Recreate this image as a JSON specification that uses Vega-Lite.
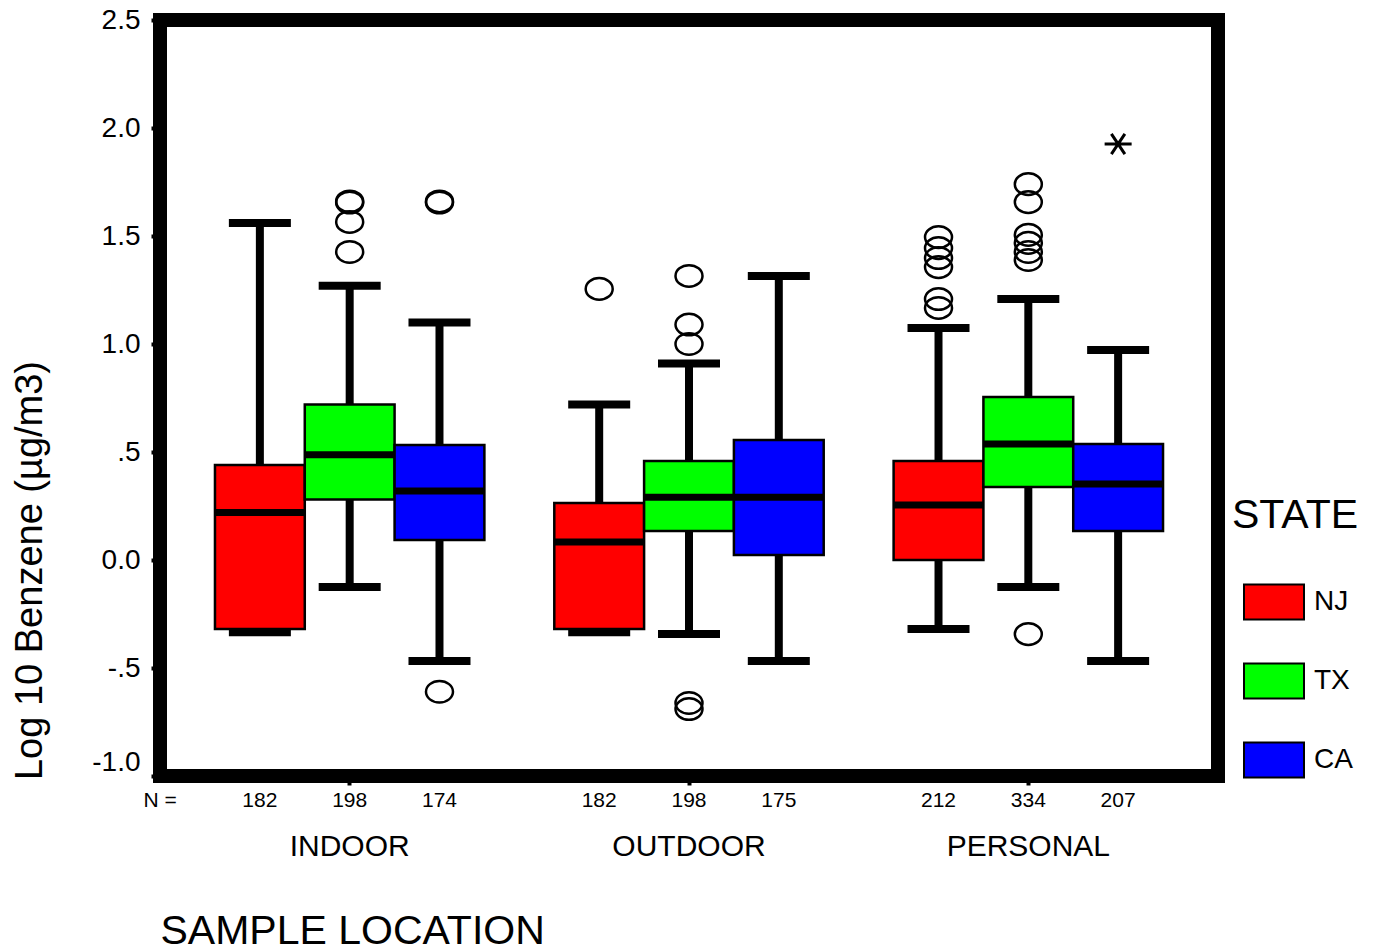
{
  "$schema": "https://vega.github.io/schema/vega-lite/v6.json",
  "width": 1058,
  "height": 756,
  "autosize": {"type": "none"},
  "padding": {"left": 160, "top": 20, "right": 155, "bottom": 175},
  "background": "white",
  "config": {
    "view": {"stroke": "black", "strokeWidth": 14},
    "font": "Liberation Sans",
    "axis": {"grid": false, "domain": false, "labelColor": "black", "titleColor": "black", "tickColor": "black", "titleFontWeight": "normal", "labelFont": "Liberation Sans", "titleFont": "Liberation Sans"}
  },
  "datasets": {
    "boxes": [
      {"location": "INDOOR", "state": "NJ", "n": 182, "lower": -0.335, "q1": -0.32, "median": 0.22, "q3": 0.44, "upper": 1.56},
      {"location": "INDOOR", "state": "TX", "n": 198, "lower": -0.125, "q1": 0.28, "median": 0.487, "q3": 0.72, "upper": 1.27},
      {"location": "INDOOR", "state": "CA", "n": 174, "lower": -0.468, "q1": 0.093, "median": 0.32, "q3": 0.532, "upper": 1.10},
      {"location": "OUTDOOR", "state": "NJ", "n": 182, "lower": -0.335, "q1": -0.32, "median": 0.083, "q3": 0.264, "upper": 0.72},
      {"location": "OUTDOOR", "state": "TX", "n": 198, "lower": -0.343, "q1": 0.134, "median": 0.29, "q3": 0.458, "upper": 0.91},
      {"location": "OUTDOOR", "state": "CA", "n": 175, "lower": -0.468, "q1": 0.023, "median": 0.29, "q3": 0.555, "upper": 1.315},
      {"location": "PERSONAL", "state": "NJ", "n": 212, "lower": -0.32, "q1": 0.0, "median": 0.255, "q3": 0.458, "upper": 1.074},
      {"location": "PERSONAL", "state": "TX", "n": 334, "lower": -0.125, "q1": 0.338, "median": 0.537, "q3": 0.755, "upper": 1.208},
      {"location": "PERSONAL", "state": "CA", "n": 207, "lower": -0.468, "q1": 0.134, "median": 0.352, "q3": 0.537, "upper": 0.972}
    ],
    "outliers": [
      {"location": "INDOOR", "state": "TX", "value": 1.66, "kind": "outlier"},
      {"location": "INDOOR", "state": "TX", "value": 1.655, "kind": "outlier"},
      {"location": "INDOOR", "state": "TX", "value": 1.565, "kind": "outlier"},
      {"location": "INDOOR", "state": "TX", "value": 1.426, "kind": "outlier"},
      {"location": "INDOOR", "state": "CA", "value": 1.66, "kind": "outlier"},
      {"location": "INDOOR", "state": "CA", "value": 1.655, "kind": "outlier"},
      {"location": "INDOOR", "state": "CA", "value": -0.61, "kind": "outlier"},
      {"location": "OUTDOOR", "state": "NJ", "value": 1.255, "kind": "outlier"},
      {"location": "OUTDOOR", "state": "TX", "value": 1.315, "kind": "outlier"},
      {"location": "OUTDOOR", "state": "TX", "value": 1.09, "kind": "outlier"},
      {"location": "OUTDOOR", "state": "TX", "value": 1.0, "kind": "outlier"},
      {"location": "OUTDOOR", "state": "TX", "value": -0.662, "kind": "outlier"},
      {"location": "OUTDOOR", "state": "TX", "value": -0.69, "kind": "outlier"},
      {"location": "PERSONAL", "state": "NJ", "value": 1.495, "kind": "outlier"},
      {"location": "PERSONAL", "state": "NJ", "value": 1.444, "kind": "outlier"},
      {"location": "PERSONAL", "state": "NJ", "value": 1.398, "kind": "outlier"},
      {"location": "PERSONAL", "state": "NJ", "value": 1.356, "kind": "outlier"},
      {"location": "PERSONAL", "state": "NJ", "value": 1.208, "kind": "outlier"},
      {"location": "PERSONAL", "state": "NJ", "value": 1.167, "kind": "outlier"},
      {"location": "PERSONAL", "state": "TX", "value": 1.74, "kind": "outlier"},
      {"location": "PERSONAL", "state": "TX", "value": 1.657, "kind": "outlier"},
      {"location": "PERSONAL", "state": "TX", "value": 1.505, "kind": "outlier"},
      {"location": "PERSONAL", "state": "TX", "value": 1.468, "kind": "outlier"},
      {"location": "PERSONAL", "state": "TX", "value": 1.426, "kind": "outlier"},
      {"location": "PERSONAL", "state": "TX", "value": 1.389, "kind": "outlier"},
      {"location": "PERSONAL", "state": "TX", "value": -0.343, "kind": "outlier"},
      {"location": "PERSONAL", "state": "CA", "value": 1.926, "kind": "extreme"}
    ]
  },
  "encoding": {
    "x": {
      "field": "location", "type": "nominal",
      "scale": {"domain": ["INDOOR", "OUTDOOR", "PERSONAL"], "paddingInner": 0.206, "paddingOuter": 0.162},
      "axis": {
        "title": "SAMPLE LOCATION", "labelAngle": 0, "labelFontSize": 30, "labelPadding": 46,
        "tickSize": 9, "tickWidth": 4,
        "titleFontSize": 41, "titleAnchor": "start", "titleAlign": "left", "titleX": 0, "titleY": 167, "titleBaseline": "alphabetic"
      }
    },
    "xOffset": {"field": "state", "type": "nominal", "scale": {"domain": ["NJ", "TX", "CA"], "paddingInner": 0, "paddingOuter": 0}}
  },
  "layer": [
    {
      "data": {"name": "boxes"},
      "mark": {"type": "rule", "color": "black", "strokeWidth": 8},
      "encoding": {
        "y": {
          "field": "lower", "type": "quantitative",
          "scale": {"domain": [-1, 2.5], "nice": false, "zero": false},
          "axis": {
            "title": "Log 10 Benzene (µg/m3)", "values": [-1, -0.5, 0, 0.5, 1, 1.5, 2, 2.5],
            "labelExpr": "datum.value == 0.5 ? '.5' : datum.value == -0.5 ? '-.5' : datum.value == -1 ? '-1.0' : format(datum.value, '.1f')",
            "labelFontSize": 28, "labelPadding": 11, "tickSize": 9, "tickWidth": 4,
            "labelBaseline": {"condition": {"test": "datum.value == -1", "value": "bottom"}, "value": "middle"},
            "titleFontSize": 38, "titleAngle": 270, "titleX": -130, "titleY": 550, "titleAlign": "center", "titleBaseline": "middle"
          }
        },
        "y2": {"field": "upper"}
      }
    },
    {
      "data": {"name": "boxes"},
      "mark": {"type": "tick", "color": "black", "size": 62, "thickness": 8, "opacity": 1},
      "encoding": {"y": {"field": "lower", "type": "quantitative"}}
    },
    {
      "data": {"name": "boxes"},
      "mark": {"type": "tick", "color": "black", "size": 62, "thickness": 8, "opacity": 1},
      "encoding": {"y": {"field": "upper", "type": "quantitative"}}
    },
    {
      "data": {"name": "boxes"},
      "mark": {"type": "bar", "stroke": "black", "strokeWidth": 2.5, "opacity": 1},
      "encoding": {
        "y": {"field": "q1", "type": "quantitative"},
        "y2": {"field": "q3"},
        "color": {
          "field": "state", "type": "nominal",
          "scale": {"domain": ["NJ", "TX", "CA"], "range": ["#FF0000", "#00FF00", "#0000FF"]},
          "legend": {
            "title": "STATE", "orient": "none", "legendX": 1072, "legendY": 476, "padding": 0,
            "titleFontSize": 41, "titleFontWeight": "normal", "titleColor": "black", "titleFont": "Liberation Sans", "titlePadding": 34,
            "labelFontSize": 28, "labelColor": "black", "labelFont": "Liberation Sans", "labelOffset": 9,
            "symbolType": "M-1,-0.583H1V0.583H-1Z", "symbolSize": 3600, "symbolStrokeColor": "black", "symbolStrokeWidth": 2, "symbolOpacity": 1, "symbolFillOpacity": 1,
            "symbolOffset": 11, "rowPadding": 26
          }
        }
      }
    },
    {
      "data": {"name": "boxes"},
      "mark": {"type": "tick", "color": "black", "size": 90, "thickness": 7, "opacity": 1},
      "encoding": {"y": {"field": "median", "type": "quantitative"}}
    },
    {
      "data": {"name": "outliers"},
      "transform": [{"filter": "datum.kind == 'outlier'"}],
      "mark": {"type": "point", "shape": "M-1,0A1,0.8,0,1,0,1,0A1,0.8,0,1,0,-1,0Z", "size": 729, "filled": false, "stroke": "black", "strokeWidth": 2.5, "opacity": 1},
      "encoding": {"y": {"field": "value", "type": "quantitative"}}
    },
    {
      "data": {"name": "outliers"},
      "transform": [{"filter": "datum.kind == 'extreme'"}],
      "mark": {"type": "point", "shape": "M-1,0L1,0M-0.5,-0.75L0.5,0.75M-0.5,0.75L0.5,-0.75", "size": 729, "filled": false, "stroke": "black", "strokeWidth": 3, "opacity": 1},
      "encoding": {"y": {"field": "value", "type": "quantitative"}}
    },
    {
      "data": {"name": "boxes"},
      "mark": {"type": "text", "fontSize": 21, "color": "black", "baseline": "middle", "dy": 25, "font": "Liberation Sans"},
      "encoding": {"y": {"datum": -1}, "text": {"field": "n", "type": "quantitative"}}
    },
    {
      "data": {"values": [{"label": "N ="}]},
      "mark": {"type": "text", "fontSize": 21, "color": "black", "baseline": "middle", "dy": 25, "font": "Liberation Sans"},
      "encoding": {"x": {"value": 0}, "xOffset": null, "y": {"datum": -1}, "text": {"field": "label", "type": "nominal"}}
    }
  ]
}
